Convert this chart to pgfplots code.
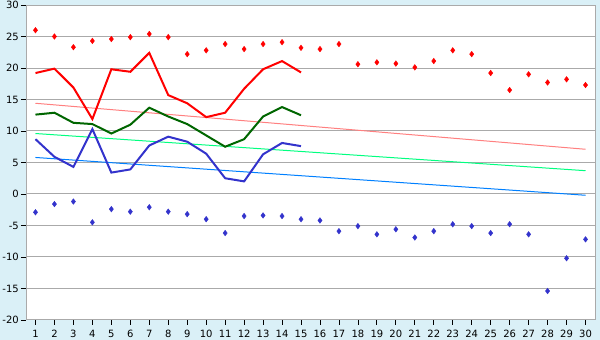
\documentclass[border=0pt]{standalone}
\usepackage{pgfplots}
\pgfplotsset{compat=1.18}
\usepackage{fontspec}
\setmainfont{DejaVu Sans}
\definecolor{bgc}{HTML}{DAF0F7}
\definecolor{gridc}{HTML}{AAAAAA}
\definecolor{maxred}{HTML}{FF0000}
\definecolor{dgreen}{HTML}{006600}
\definecolor{minblue}{HTML}{3333CC}
\definecolor{tred}{HTML}{FF8080}
\definecolor{tgreen}{HTML}{00FF80}
\definecolor{tblue}{HTML}{0080FF}
\begin{document}
\begin{tikzpicture}[x=1pt,y=1pt]
\fill[bgc] (0,0) rectangle (600,340);
\useasboundingbox (0,0) rectangle (600,340);
\begin{axis}[
  at={(26pt,20pt)}, anchor=south west,
  scale only axis, width=569pt, height=315pt,
  xmin=0.5, xmax=30.5, ymin=-20, ymax=30,
  axis background/.style={fill=white},
  xtick={1,...,30}, ytick={-20,-15,...,30},
  ymajorgrids, grid style={gridc, line width=1pt},
  axis line style={gridc, line width=1pt},
  tick style={black, line width=0.8pt},
  major tick length=5pt,
  tick align=outside,
  xtick pos=bottom, ytick pos=left,
  /pgf/number format/assume math mode=true,
  ticklabel style={font=\fontsize{10}{12}\selectfont},
  xticklabel style={yshift=-2pt},
  yticklabel style={xshift=1.3pt},
  clip=false,
]
% trend lines
\addplot[tred, line width=1pt] coordinates {(1,14.4) (30,7.1)};
\addplot[tgreen, line width=1pt] coordinates {(1,9.6) (30,3.7)};
\addplot[tblue, line width=1pt] coordinates {(1,5.8) (30,-0.2)};
% daily lines
\addplot[maxred, line width=2pt] coordinates {
(1,19.2) (2,19.9) (3,16.9) (4,11.9) (5,19.8) (6,19.4) (7,22.4) (8,15.7) (9,14.4) (10,12.2) (11,12.9) (12,16.7) (13,19.8) (14,21.1) (15,19.3)};
\addplot[dgreen, line width=2pt] coordinates {
(1,12.6) (2,12.9) (3,11.3) (4,11.1) (5,9.6) (6,11.0) (7,13.7) (8,12.3) (9,11.1) (10,9.3) (11,7.5) (12,8.7) (13,12.3) (14,13.8) (15,12.5)};
\addplot[minblue, line width=2pt] coordinates {
(1,8.7) (2,5.9) (3,4.3) (4,10.3) (5,3.4) (6,3.9) (7,7.7) (8,9.1) (9,8.3) (10,6.4) (11,2.5) (12,2.0) (13,6.3) (14,8.1) (15,7.6)};
% max / min markers
\addplot[only marks, mark=diamond*, mark size=2.8pt, maxred] coordinates {
(1,26.0) (2,25.0) (3,23.3) (4,24.3) (5,24.6) (6,24.9) (7,25.4) (8,24.9) (9,22.2) (10,22.8) (11,23.8) (12,23.0) (13,23.8) (14,24.1) (15,23.2) (16,23.0) (17,23.8) (18,20.6) (19,20.9) (20,20.7) (21,20.1) (22,21.1) (23,22.8) (24,22.2) (25,19.2) (26,16.5) (27,19.0) (28,17.7) (29,18.2) (30,17.3)};
\addplot[only marks, mark=diamond*, mark size=2.8pt, minblue] coordinates {
(1,-2.9) (2,-1.6) (3,-1.2) (4,-4.5) (5,-2.4) (6,-2.8) (7,-2.1) (8,-2.8) (9,-3.2) (10,-4.0) (11,-6.2) (12,-3.5) (13,-3.4) (14,-3.5) (15,-4.0) (16,-4.2) (17,-5.9) (18,-5.1) (19,-6.4) (20,-5.6) (21,-6.9) (22,-5.9) (23,-4.8) (24,-5.1) (25,-6.2) (26,-4.8) (27,-6.4) (28,-15.4) (29,-10.2) (30,-7.2)};
\end{axis}
\end{tikzpicture}
\end{document}
